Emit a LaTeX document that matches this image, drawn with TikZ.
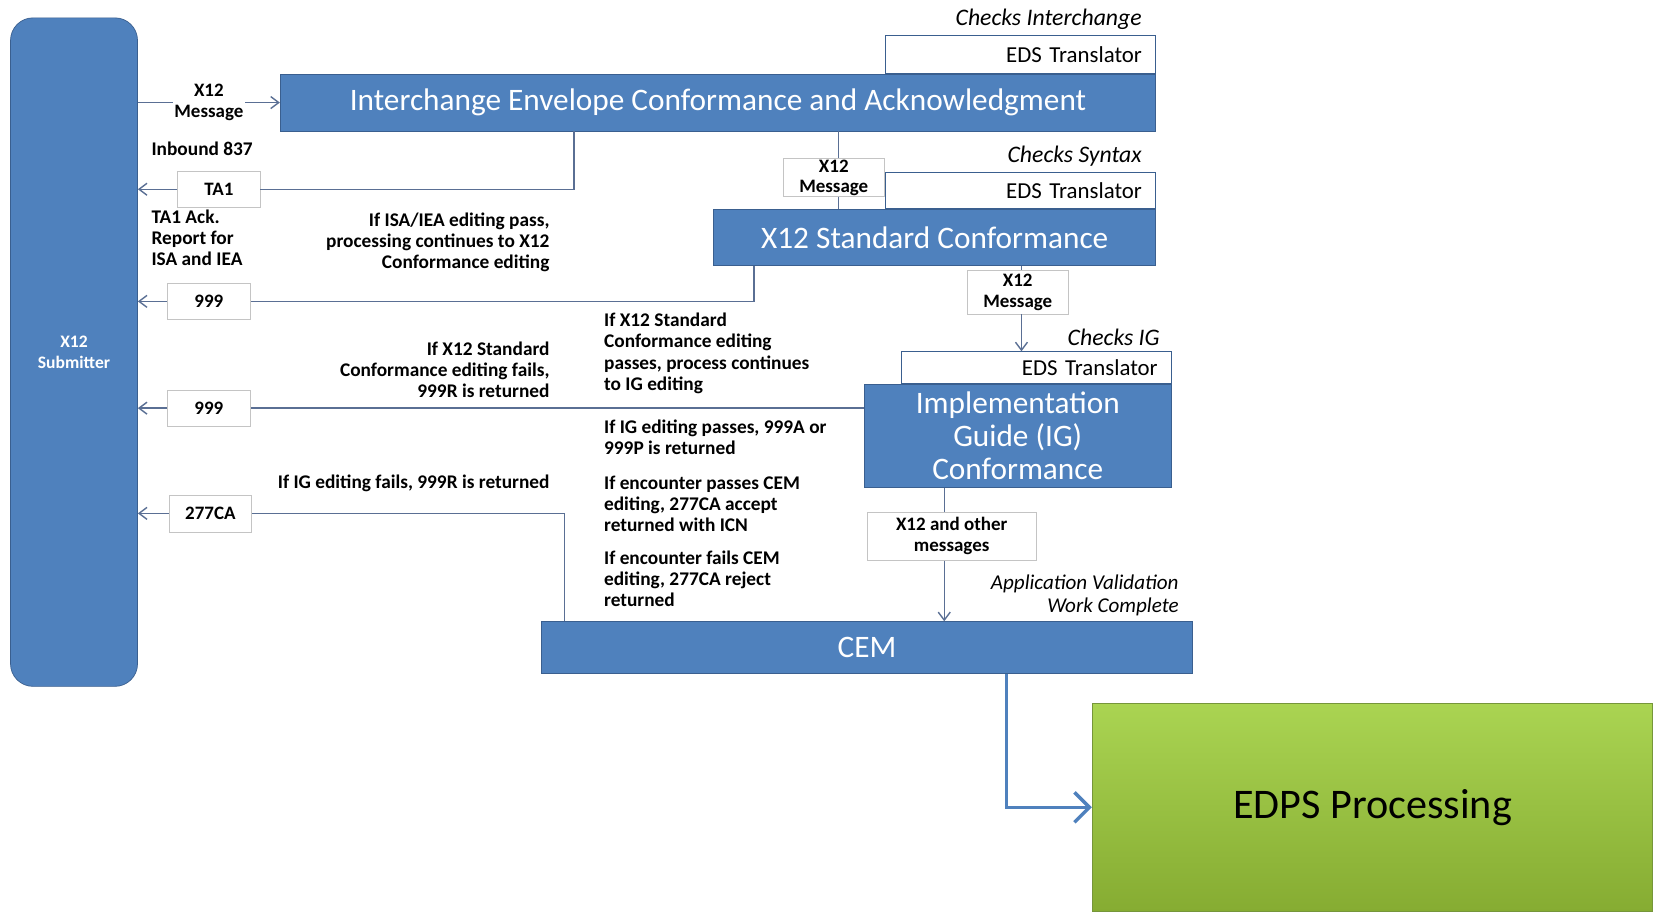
\documentclass[tikz,border=0pt]{standalone}
\usepackage{fontspec}
\setmainfont{Carlito}
\usepackage{tikz}
\usetikzlibrary{arrows.meta}
\usetikzlibrary{positioning}
\definecolor{boxblue}{HTML}{4F81BD}
\definecolor{boxedge}{HTML}{3A5F8F}
\definecolor{linegray}{HTML}{5A6F94}
\definecolor{msgedge}{HTML}{C4C4C4}
\definecolor{edpstop}{HTML}{AAD452}
\definecolor{edpsbot}{HTML}{86AC32}
\definecolor{edpsedge}{HTML}{76963A}
\tikzset{
    submitter/.style = {draw=boxedge,fill=boxblue,rounded corners=0.45cm,text=white,align=center,font=\bfseries\fontsize{10}{12}\selectfont},
    stage/.style = {draw=boxedge,fill=boxblue,text=white,inner sep=0,align=center,font=\fontsize{17.8}{18.7}\selectfont},
    tool/.style = {draw=boxedge,fill=white,inner sep=0,anchor=south east,minimum width=5.41cm,text width=4.86cm,align=right,font=\fontsize{13}{14}\selectfont},
    msg/.style = {draw=msgedge,fill=white,inner sep=0,align=center,font=\bfseries\fontsize{10.8}{11.6}\selectfont},
    note/.style = {inner sep=0,font=\bfseries\fontsize{11}{12}\selectfont},
    check/.style = {inner sep=0,anchor=east,font=\itshape\fontsize{13.5}{14}\selectfont},
    wire/.style = {draw=linegray,line width=0.8pt},
    ret/.style = {wire,-{Straight Barb[length=1.6mm,width=2.4mm]}},
    feed/.style = {draw=boxblue,line width=2pt,-{Straight Barb[length=3mm,width=6mm]}},
    edps/.style = {draw=edpsedge,top color=edpstop,bottom color=edpsbot,font=\fontsize{24}{28}\selectfont}
}
\begin{document}
\begin{tikzpicture}[x=0.021148cm,y=-0.021148cm]
        \useasboundingbox (0,0) rectangle (1568,865);
        % Submitter
        \path node[submitter,minimum width=2.54cm,minimum height=13.37cm] (sub) at (70,333) {X12\\Submitter};
        % Stages
        \path node[stage,minimum width=17.51cm,minimum height=1.14cm] (iec) at (679,97)
            {Interchange Envelope Conformance and Acknowledgment};
        \path node[stage,minimum width=8.84cm,minimum height=1.12cm] (std) at (884,224.5)
            {X12 Standard Conformance};
        \path node[stage,minimum width=6.15cm,minimum height=2.07cm] (ig) at (962.5,412)
            {Implementation\\Guide (IG)\\Conformance};
        \path node[stage,minimum width=13.03cm,minimum height=1.04cm] (cem) at (820,612.5) {CEM};
        \path node[edps,minimum width=11.21cm,minimum height=4.17cm] (edps) at (1298,763.5) {EDPS Processing};
        % Translators
        \path node[tool,minimum height=0.76cm] (eds1) at (iec.north east) {EDS Translator};
        \path node[tool,minimum height=0.72cm] (eds2) at (std.north east) {EDS Translator};
        \path node[tool,minimum height=0.63cm] (eds3) at (ig.north east) {EDS Translator};
        \path node[check] (chk1) at (1080,18) {Checks Interchange}
            node[check] (chk2) at (1080,148) {Checks Syntax}
            node[check] (chk3) at (1097,319) {Checks IG}
            node[check,align=right,anchor=north east,font=\itshape\fontsize{12}{13.3}\selectfont] (appval) at (1115,543)
                {Application Validation\\Work Complete}
        ;
        % Messages
        \path node[msg,minimum width=2.01cm,minimum height=0.76cm] (msga) at (788.5,168) {X12\\Message}
            node[msg,minimum width=2.01cm,minimum height=0.87cm] (msgb) at (962.5,276.5) {X12\\Message}
            node[msg,minimum width=3.38cm,minimum height=0.97cm] (msgc) at (900,507) {X12 and other\\messages}
            node[msg,minimum width=1.65cm,minimum height=0.72cm] (ta1) at (207,179) {TA1}
            node[msg,minimum width=1.67cm,minimum height=0.72cm] (s999a) at (197.5,285) {999}
            node[msg,minimum width=1.67cm,minimum height=0.72cm] (s999b) at (197.5,386) {999}
            node[msg,minimum width=1.65cm,minimum height=0.74cm] (ca277) at (199,485.5) {277CA}
        ;
        % Notes
        \path node[note,anchor=west] (inbound) at (143,141) {Inbound 837}
            node[note,anchor=north west,align=left] (ta1note) at (143,198) {TA1 Ack.\\Report for\\ISA and IEA}
            node[note,anchor=north east,align=right] (isapass) at (520,201)
                {If ISA/IEA editing pass,\\processing continues to X12\\Conformance editing}
            node[note,anchor=north east,align=right] (stdfail) at (520,323)
                {If X12 Standard\\Conformance editing fails,\\999R is returned}
            node[note,anchor=north east] (igfail) at (520,449) {If IG editing fails, 999R is returned}
            node[note,anchor=north west,align=left] (stdpass) at (571,296)
                {If X12 Standard\\Conformance editing\\passes, process continues\\to IG editing}
            node[note,anchor=north west,align=left] (igpass) at (571,397)
                {If IG editing passes, 999A or\\999P is returned}
            node[note,anchor=north west,align=left] (cempass) at (571,450)
                {If encounter passes CEM\\editing, 277CA accept\\returned with ICN}
            node[note,anchor=north west,align=left] (cemfail) at (571,521)
                {If encounter fails CEM\\editing, 277CA reject\\returned}
        ;
        % Tap points
        \coordinate (ta1x) at (543,0);
        \coordinate (s999x) at (713,0);
        \coordinate (ca277x) at (534,0);
        \coordinate (edpsx) at (952,0);
        \coordinate (stdx) at (793,0);
        \coordinate (igx) at (966,0);
        \coordinate (cemx) at (893,0);
        % Inbound
        \draw[ret] (sub.east |- iec.west) -- node[fill=white,inner sep=1pt,align=center,font=\bfseries\fontsize{10.8}{11.6}\selectfont] (inmsg) {X12\\Message} (iec.west);
        % Forward
        \draw[wire] (iec.south -| stdx) -- (msga.north -| stdx);
        \draw[wire] (msga.south -| stdx) -- (std.north -| stdx);
        \draw[wire] (std.south -| igx) -- (msgb.north -| igx);
        \draw[ret] (msgb.south -| igx) -- (eds3.north -| igx);
        \draw[wire] (ig.south -| cemx) -- (msgc.north -| cemx);
        \draw[ret] (msgc.south -| cemx) -- (cem.north -| cemx);
        \draw[feed] (cem.south -| edpsx) |- (edps.west);
        % Returns
        \draw[wire] (iec.south -| ta1x) |- (ta1);
        \draw[wire] (std.south -| s999x) |- (s999a);
        \draw[wire] (ig.west |- s999b) -- (s999b);
        \draw[wire] (cem.north -| ca277x) |- (ca277);
        \foreach \msg in {ta1,s999a,s999b,ca277}
            \draw[ret] (\msg) -- (sub.east |- \msg);
\end{tikzpicture}
\end{document}
